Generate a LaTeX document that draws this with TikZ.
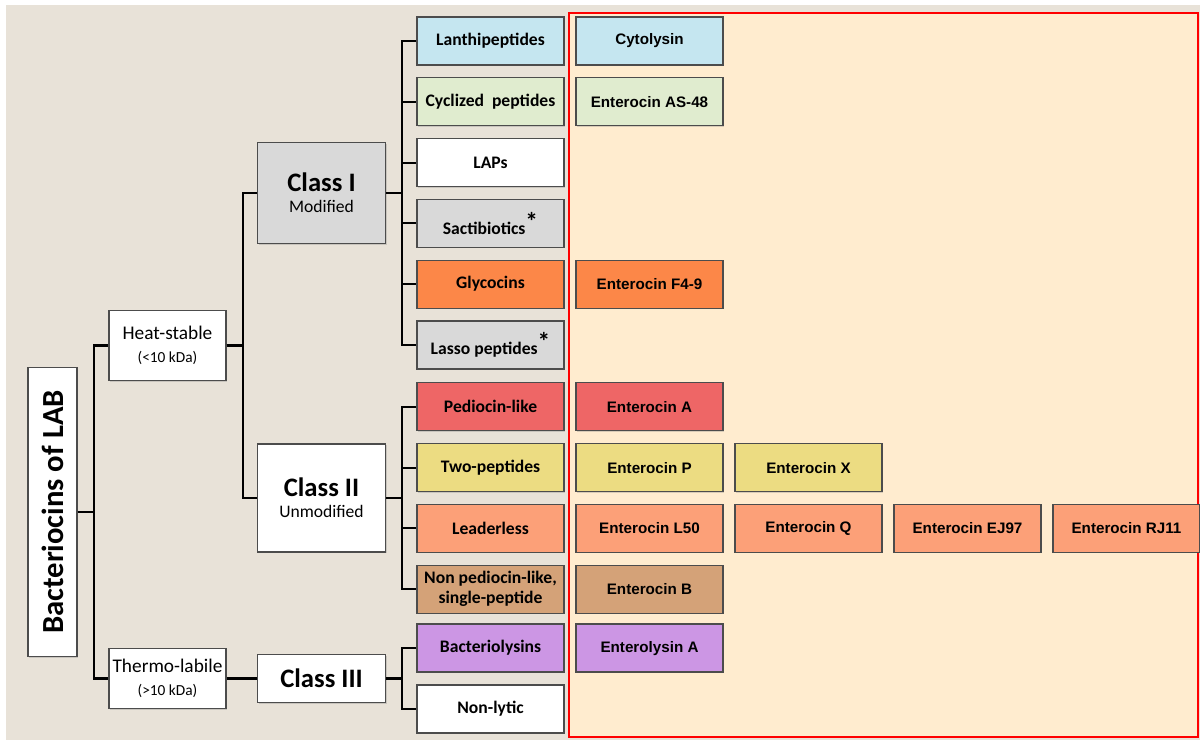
\documentclass[tikz,border=0pt]{standalone}
\usepackage{fontspec}
\setmainfont{Carlito}
\newfontfamily\arialfont{Liberation Sans}
\usetikzlibrary{positioning,shadows}

\definecolor{bgbeige}{RGB}{232,226,216}
\definecolor{panelcream}{RGB}{255,236,207}
\definecolor{lanthiblue}{RGB}{197,230,240}
\definecolor{cyclgreen}{RGB}{224,236,207}
\definecolor{sactigrey}{RGB}{217,217,217}
\definecolor{glycoorange}{RGB}{252,135,72}
\definecolor{pediored}{RGB}{238,102,102}
\definecolor{twoyellow}{RGB}{236,220,130}
\definecolor{leadsalmon}{RGB}{252,160,120}
\definecolor{nonpedtan}{RGB}{212,162,120}
\definecolor{bactlilac}{RGB}{204,150,228}

\newcommand{\newmark}{\raisebox{3pt}{\fontsize{19}{19}\selectfont*}}

\tikzset{
  box/.style={draw=black!70, line width=1pt, inner sep=1pt, align=center, fill=white,
    drop shadow={shadow xshift=0.8pt, shadow yshift=-0.8pt, opacity=0.3}},
  rootbox/.style={box, minimum width=36.75pt, minimum height=216.75pt,
    font=\fontsize{23}{25}\selectfont\bfseries},
  heatbox/.style={box, minimum width=87.75pt, font=\fontsize{14.5}{16}\selectfont},
  classbox/.style={box, minimum width=96pt},
  subbox/.style={box, minimum width=110.25pt, minimum height=36pt,
    font=\fontsize{13.2}{15}\selectfont\bfseries},
  entbox/.style={box, minimum width=110.25pt, minimum height=36pt,
    font=\arialfont\fontsize{11.4}{13}\selectfont\bfseries},
}

\begin{document}
\begin{tikzpicture}[x=0.75pt, y=-0.75pt, grow'=right,
  edge from parent/.style={draw, black, line width=1.6pt},
  edge from parent path={(\tikzparentnode.east) -- ++(12pt,0) |- (\tikzchildnode.west)},
  level 1/.style={level distance=86.25pt, sibling distance=249.75pt},
  level 2/.style={level distance=115.5pt, sibling distance=228.75pt},
  level 3/.style={level distance=126.75pt, sibling distance=45.6pt}]
\useasboundingbox (0,0) rectangle (1200,740);
\fill[white] (0,0) rectangle (1200,740);
\fill[bgbeige] (6,5) rectangle (1200,740);
\draw[red, line width=1.2pt, fill=panelcream] (569,13) rectangle (1198,737);

\node [rootbox] (lab) at (52.5,512) {\rotatebox{90}{Bacteriocins of LAB}}
  child {
    node [heatbox, minimum height=52.5pt] (heat) {Heat-stable\\[1pt]{\fontsize{11.5}{13}\selectfont(<10 kDa)}}
    child {
      node [classbox, fill=sactigrey, minimum height=75.75pt] (classI)
        {{\fontsize{20}{22}\selectfont\bfseries Class I}\\[4pt]{\fontsize{13.2}{15}\selectfont Modified}}
      child { node [subbox, fill=lanthiblue] (lanthi) {Lanthipeptides} }
      child { node [subbox, fill=cyclgreen] (cycl) {Cyclized~ peptides} }
      child { node [subbox] (laps) {LAPs} }
      child { node [subbox, fill=sactigrey] (sacti) {Sactibiotics\newmark} }
      child { node [subbox, fill=glycoorange] (glyco) {Glycocins} }
      child { node [subbox, fill=sactigrey] (lasso) {Lasso peptides\newmark} }
    }
    child {
      node [classbox, minimum height=81pt] (classII)
        {{\fontsize{20}{22}\selectfont\bfseries Class II}\\[4pt]{\fontsize{13.2}{15}\selectfont Unmodified}}
      child { node [subbox, fill=pediored] (pedio) {Pediocin-like} }
      child { node [subbox, fill=twoyellow] (twopep) {Two-peptides} }
      child { node [subbox, fill=leadsalmon] (leader) {Leaderless} }
      child { node [subbox, fill=nonpedtan] (nonped) {Non pediocin-like,\\single-peptide} }
    }
  }
  child {
    node [heatbox, minimum height=45pt] (thermo) {Thermo-labile\\[1pt]{\fontsize{11.5}{13}\selectfont(>10 kDa)}}
    child {
      node [classbox, minimum height=36pt] (classIII) {\fontsize{20}{22}\selectfont\bfseries Class III}
      child { node [subbox, fill=bactlilac] (bactlys) {Bacteriolysins} }
      child { node [subbox] (nonlytic) {Non-lytic} }
    }
  };

% examples per subclass
\node [entbox, fill=lanthiblue, right=8pt of lanthi] (cytolysin) {Cytolysin};
\node [entbox, fill=cyclgreen, right=8pt of cycl] (as48) {Enterocin AS-48};
\node [entbox, fill=glycoorange, right=8pt of glyco] (f49) {Enterocin F4-9};
\node [entbox, fill=pediored, right=8pt of pedio] (entA) {Enterocin A};
\node [entbox, fill=twoyellow, right=8pt of twopep] (entP) {Enterocin P};
\node [entbox, fill=twoyellow, right=8pt of entP] (entX) {Enterocin X};
\node [entbox, fill=leadsalmon, right=8pt of leader] (l50) {Enterocin L50};
\node [entbox, fill=leadsalmon, right=8pt of l50] (entQ) {Enterocin Q};
\node [entbox, fill=leadsalmon, right=8pt of entQ] (ej97) {Enterocin EJ97};
\node [entbox, fill=leadsalmon, right=8pt of ej97] (rj11) {Enterocin RJ11};
\node [entbox, fill=nonpedtan, right=8pt of nonped] (entB) {Enterocin B};
\node [entbox, fill=bactlilac, right=8pt of bactlys] (enterolysin) {Enterolysin A};
\end{tikzpicture}
\end{document}
